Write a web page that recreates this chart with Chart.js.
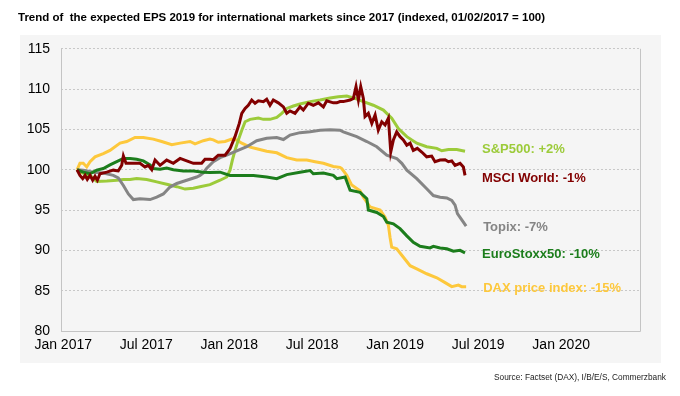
<!DOCTYPE html>
<html>
<head>
<meta charset="utf-8">
<script src="https://cdn.jsdelivr.net/npm/chart.js@4.4.1/dist/chart.umd.min.js"></script>
<style>
  html, body { margin: 0; padding: 0; background: #ffffff; }
  #wrap { width: 680px; height: 396px; position: relative; }
</style>
</head>
<body>
<div id="wrap"><canvas id="c" width="680" height="396"></canvas></div>
<script>
// ---- data (x = months since Jan 2017, y = index, 01/02/2017 = 100) ----
const titleText = 'Trend of  the expected EPS 2019 for international markets since 2017 (indexed, 01/02/2017 = 100)';
const sourceText = 'Source: Factset (DAX), I/B/E/S, Commerzbank';
const tickLabels = ['Jan 2017', 'Jul 2017', 'Jan 2018', 'Jul 2018', 'Jan 2019', 'Jul 2019', 'Jan 2020'];
const tickMonths = [0, 6, 12, 18, 24, 30, 36];
const seriesNames = ['MSCI World', 'EuroStoxx50', 'Topix', 'S&P500', 'DAX price index'];
const seriesLabels = ['MSCI World: -1%', 'EuroStoxx50: -10%', 'Topix: -7%', 'S&P500: +2%', 'DAX price index: -15%'];

const msciMonths = [1.00,1.21,1.41,1.58,1.74,1.94,2.13,2.30,2.47,2.66,3.15,3.62,3.98,4.23,4.35,4.54,5.07,5.55,5.91,6.15,6.40,6.64,7.00,7.48,7.96,8.45,8.93,9.41,10.01,10.25,10.61,10.85,11.21,11.70,12.06,12.42,12.73,12.91,13.15,13.38,13.63,13.87,14.11,14.47,14.71,14.95,15.19,15.55,15.92,16.16,16.40,16.76,17.12,17.36,17.72,18.08,18.45,18.81,19.05,19.53,19.78,20.01,20.25,20.74,20.98,21.17,21.34,21.51,21.70,21.82,22.06,22.31,22.55,22.78,23.03,23.27,23.51,23.68,23.87,24.11,24.35,24.59,24.84,25.08,25.31,25.60,25.92,26.28,26.64,26.88,27.25,27.61,27.85,28.09,28.33,28.69,28.93,29.05];
const msciValues = [100,99.3,98.9,99.3,98.8,99.3,98.7,99.2,98.7,99.5,99.7,99.95,99.85,100.55,101.7,100.8,100.8,100.8,100.35,100.55,100.0,101.2,100.55,101.2,100.8,101.4,101.1,100.8,100.8,101.3,101.3,101.25,101.8,101.8,102.6,104.1,105.75,107.0,107.6,108.0,108.65,108.25,108.55,108.45,108.75,108.0,108.65,108.3,107.8,107.0,107.3,107.0,107.8,107.4,108.25,108.0,108.3,107.8,108.55,108.3,108.3,108.45,108.45,108.65,108.85,110.3,108.65,110.3,108.85,106.6,107.0,105.75,106.8,104.9,105.95,105.55,106.4,102.2,103.7,104.7,104.1,103.7,103.05,103.3,102.4,102.65,102.2,101.6,101.7,101.0,101.2,101.25,101.0,101.1,100.55,100.8,100.35,99.3];

const euroMonths = [1.00,1.45,1.94,2.42,2.90,3.38,3.87,4.35,4.83,5.31,5.79,6.28,6.51,7.00,7.48,7.96,8.68,9.41,10.13,10.61,11.34,12.06,13.02,13.75,14.71,15.44,16.16,17.12,17.85,18.08,18.81,19.53,19.78,20.38,20.74,21.46,21.95,22.06,22.67,23.15,23.39,23.87,24.35,24.84,25.31,25.80,26.52,26.76,27.25,27.73,28.21,28.69,29.05];
const euroValues = [100,99.7,99.5,99.95,100.15,100.6,101.0,101.4,101.4,101.3,101.1,100.6,100.15,100.05,100.2,100.0,99.85,99.85,99.7,99.65,99.7,99.3,99.3,99.3,99.1,98.9,99.4,99.7,99.9,99.5,99.6,99.3,98.9,99.1,97.45,97.2,96.4,95.0,94.7,94.2,93.5,93.3,92.7,91.8,91.0,90.5,90.3,90.5,90.3,90.2,89.9,90.0,89.7];

const topixMonths = [1.00,1.45,2.18,2.90,3.62,3.98,4.35,4.71,5.07,5.55,6.28,6.76,7.24,7.72,8.21,8.93,9.65,9.89,10.13,10.38,10.85,11.34,11.82,12.55,13.27,13.99,14.71,15.44,15.92,16.40,17.12,17.85,18.57,19.29,20.01,20.25,21.22,21.95,22.67,23.39,24.11,24.48,24.84,25.56,26.28,26.76,27.25,27.73,28.09,28.33,28.50,28.69,29.13];
const topixValues = [100,99.95,99.7,99.6,99.3,99.0,98.05,97.0,96.3,96.4,96.3,96.6,97.0,97.85,98.3,98.7,99.1,99.3,99.6,100.2,101.0,101.5,101.8,102.35,102.85,103.6,103.9,104.0,103.75,104.3,104.6,104.7,104.9,104.95,104.9,104.7,104.1,103.5,102.85,101.8,101.4,100.8,99.95,98.9,97.65,96.8,96.6,96.5,96.2,95.6,94.55,94.1,93.0];

const spMonths = [1.00,1.21,1.94,2.42,3.15,3.87,4.35,4.83,5.31,6.04,6.76,7.48,8.21,8.81,9.41,9.89,10.61,11.34,11.82,12.06,12.23,12.42,12.66,12.91,13.15,13.51,14.11,14.47,14.95,15.44,15.80,16.16,16.64,17.12,17.85,18.57,19.29,19.89,20.50,21.10,21.70,22.42,23.15,23.75,24.23,24.84,25.56,26.28,27.01,27.37,27.85,28.45,29.05];
const spValues = [100,99.7,99.3,98.55,98.6,98.7,98.8,98.8,98.9,98.8,98.5,98.2,97.9,97.6,97.7,97.9,98.15,98.7,99.1,99.95,101.2,102.4,103.7,104.9,105.95,106.25,106.4,106.25,106.25,106.5,107.0,107.6,107.9,108.15,108.45,108.65,108.9,109.05,109.15,108.85,108.45,108.0,107.4,106.4,105.1,104.1,103.3,102.85,102.65,102.35,102.5,102.5,102.3];

const daxMonths = [1.00,1.21,1.45,1.70,1.94,2.30,2.90,3.38,4.11,4.59,5.19,5.79,6.51,7.12,7.85,8.45,9.17,9.53,10.13,10.61,10.85,11.21,11.70,12.18,12.55,12.91,13.51,13.99,14.71,15.44,16.16,16.88,17.61,18.21,18.81,19.53,20.01,20.14,20.50,20.86,21.46,21.70,22.18,22.91,23.27,23.51,23.63,23.75,24.11,24.48,25.08,25.56,26.28,27.01,27.61,28.09,28.57,28.81,29.13];
const daxValues = [100,100.8,100.8,100.35,101.0,101.6,102.0,102.4,103.3,103.5,104.0,104.0,103.8,103.5,103.1,103.3,103.5,103.2,103.6,103.8,103.7,103.4,103.5,103.8,103.7,103.3,102.8,102.6,102.3,102.1,101.5,101.2,101.2,101.0,100.8,100.4,100.3,100.15,99.3,98.1,97.4,96.6,95.4,95.0,94.1,93.1,91.6,90.4,90.2,89.4,88.1,87.7,87.1,86.6,86.0,85.5,85.7,85.5,85.5];

// ---- styles ----
const colors = ['#820000', '#1c7d1c', '#858585', '#9ccb3a', '#fdc83c'];
const labelDy = [3, 2, 1, -2, 2];
const FONT = '"Liberation Sans", Arial, Helvetica, sans-serif';

function pts(xs, ys) { return xs.map((x, i) => ({ x: x, y: ys[i] })); }
const seriesData = [
  pts(msciMonths, msciValues),
  pts(euroMonths, euroValues),
  pts(topixMonths, topixValues),
  pts(spMonths, spValues),
  pts(daxMonths, daxValues)
];

const decor = {
  id: 'decor',
  beforeDraw(chart) {
    const ctx = chart.ctx;
    ctx.save();
    ctx.fillStyle = '#ffffff';
    ctx.fillRect(0, 0, chart.width, chart.height);
    ctx.fillStyle = '#f5f5f5';
    ctx.fillRect(20, 35, 641, 328);
    ctx.restore();
  },
  beforeDatasetsDraw(chart) {
    const a = chart.chartArea, ctx = chart.ctx;
    ctx.save();
    ctx.strokeStyle = '#c4c4c4';
    ctx.lineWidth = 1;
    ctx.beginPath();
    ctx.moveTo(Math.round(a.left) + 0.5, a.top);
    ctx.lineTo(Math.round(a.left) + 0.5, Math.round(a.bottom) + 0.5);
    ctx.lineTo(Math.round(a.right) + 0.5, Math.round(a.bottom) + 0.5);
    ctx.lineTo(Math.round(a.right) + 0.5, a.top);
    ctx.stroke();
    ctx.restore();
  },
  afterDatasetsDraw(chart) {
    const ctx = chart.ctx;
    ctx.save();
    ctx.font = 'bold 13px ' + FONT;
    ctx.textBaseline = 'middle';
    ctx.textAlign = 'left';
    chart.data.datasets.forEach((ds, i) => {
      const meta = chart.getDatasetMeta(i);
      const last = meta.data[meta.data.length - 1];
      ctx.fillStyle = ds.borderColor;
      ctx.fillText(seriesLabels[i], last.x + 17, last.y + labelDy[i]);
    });
    ctx.font = '8.3px ' + FONT;
    ctx.fillStyle = '#222222';
    ctx.textAlign = 'right';
    ctx.fillText(sourceText, 666, 378);
    ctx.restore();
  }
};

new Chart(document.getElementById('c'), {
  type: 'line',
  data: {
    datasets: seriesNames.map((n, i) => ({
      label: n,
      data: seriesData[i],
      borderColor: colors[i],
      backgroundColor: colors[i],
      borderWidth: 3,
      pointRadius: 0,
      tension: 0,
      fill: false,
      order: i
    }))
  },
  options: {
    responsive: false,
    animation: false,
    layout: { padding: { left: 18, right: 40, top: 0, bottom: 0 } },
    plugins: {
      legend: { display: false },
      tooltip: { enabled: false },
      title: {
        display: true,
        text: titleText,
        align: 'start',
        color: '#000000',
        font: { family: FONT, size: 11.5, weight: 'bold' },
        padding: { top: 11, bottom: 24 }
      }
    },
    scales: {
      x: {
        type: 'linear',
        min: -0.16,
        max: 41.7,
        grid: { display: false, drawTicks: false },
        border: { display: false },
        afterBuildTicks(axis) { axis.ticks = tickMonths.map(v => ({ value: v })); },
        afterFit(axis) { axis.height = 65; },
        ticks: {
          padding: 6,
          color: '#000000',
          font: { family: FONT, size: 14 },
          maxRotation: 0,
          autoSkip: false,
          callback: (v) => tickLabels[tickMonths.indexOf(v)] || ''
        }
      },
      y: {
        min: 80,
        max: 115,
        grid: { color: '#c8c8c8', lineWidth: 1, drawTicks: false },
        border: { display: false, dash: [2, 2] },
        afterFit(axis) { axis.width = 43; },
        ticks: {
          stepSize: 5,
          padding: 11,
          color: '#000000',
          font: { family: FONT, size: 14 }
        }
      }
    }
  },
  plugins: [decor]
});
</script>
</body>
</html>
